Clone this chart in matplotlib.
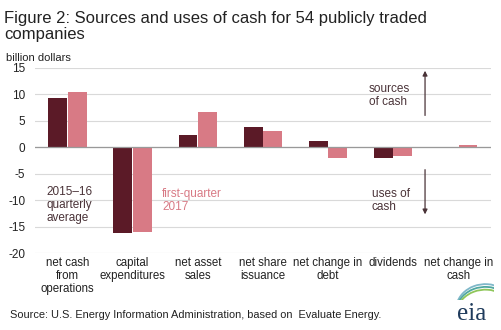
import numpy as np
import matplotlib.pyplot as plt
from matplotlib.patches import Arc

plt.rcParams['font.family'] = ['Liberation Sans', 'DejaVu Sans']

# Data (billion dollars)
categories = ["net cash\nfrom\noperations", "capital\nexpenditures", "net asset\nsales",
              "net share\nissuance", "net change in\ndebt", "dividends", "net change in\ncash"]
avg_2015_16 = [9.4, -16.2, 2.3, 3.9, 1.2, -2.0, 0.0]
q1_2017 = [10.5, -16.0, 6.6, 3.1, -2.1, -1.6, 0.5]

dark = '#5b1a27'
pink = '#d87a85'
grid_col = '#d9d9d9'
text_col = '#333333'

fig = plt.figure(figsize=(5.02, 3.30), dpi=100)
ax = fig.add_axes([0.0697, 0.233, 0.908, 0.561])

x = np.arange(len(categories))
w = 0.29
ax.bar(x - w / 2 - 0.005, avg_2015_16, w, color=dark, zorder=3)
ax.bar(x + w / 2 + 0.005, q1_2017, w, color=pink, zorder=3)

ax.set_xlim(-0.5, len(categories) - 0.5)
ax.set_ylim(-20, 15)
ax.set_yticks(np.arange(-20, 16, 5))
ax.set_yticklabels([str(v) for v in range(-20, 16, 5)], fontsize=8.5, color='#222222')
ax.set_xticks(x)
ax.set_xticklabels(categories, fontsize=8.3, color='#222222', linespacing=1.1)
ax.tick_params(length=0, pad=3)
ax.tick_params(axis='y', pad=7)
ax.grid(axis='y', color=grid_col, linewidth=0.8, zorder=0)
ax.axhline(0, color='#999999', linewidth=0.9, zorder=4)
for s in ax.spines.values():
    s.set_visible(False)

# in-chart labels
ax.text(-0.33, -7.3, "2015\u201316\nquarterly\naverage", fontsize=8.5, color='#4a3338',
        va='top', ha='left', linespacing=1.1)
ax.text(1.45, -7.7, "first-quarter\n2017", fontsize=8.5, color=pink,
        va='top', ha='left', linespacing=1.1)
ax.text(4.63, 12.1, "sources\nof cash", fontsize=8.5, color='#4a3338',
        va='top', ha='left', linespacing=1.1)
ax.text(4.67, -7.7, "uses of\ncash", fontsize=8.5, color='#4a3338',
        va='top', ha='left', linespacing=1.1)
ax.annotate("", xy=(5.49, 15), xytext=(5.49, 5.5),
            arrowprops=dict(arrowstyle='-|>', color='#4a3338', lw=0.9, mutation_scale=7))
ax.annotate("", xy=(5.49, -13.2), xytext=(5.49, -3.7),
            arrowprops=dict(arrowstyle='-|>', color='#4a3338', lw=0.9, mutation_scale=7))

# titles
fig.text(0.008, 0.968, "Figure 2: Sources and uses of cash for 54 publicly traded\ncompanies",
         fontsize=12, color='#222222', va='top', ha='left', linespacing=1.15)
fig.text(0.012, 0.84, "billion dollars", fontsize=8, color='#222222', va='top', ha='left')
fig.text(0.02, 0.045, "Source: U.S. Energy Information Administration, based on  Evaluate Energy.",
         fontsize=7.9, color='#222222', va='center', ha='left')

# eia logo
fig.text(0.94, 0.05, "eia", fontsize=18, family='Liberation Serif', color='#1f3b5c',
         va='center', ha='center')
lax = fig.add_axes([0.895, 0.09, 0.09, 0.07])
lax.set_xlim(0, 1)
lax.set_ylim(0, 1)
lax.axis('off')
for i, c in enumerate(['#7fb8c9', '#4fa7a0', '#8fc65a']):
    lax.add_patch(Arc((0.8, -0.4 - i * 0.12), 1.3, 2.2, theta1=70, theta2=160,
                      color=c, lw=1.3))

fig.savefig('out.png', dpi=100)
